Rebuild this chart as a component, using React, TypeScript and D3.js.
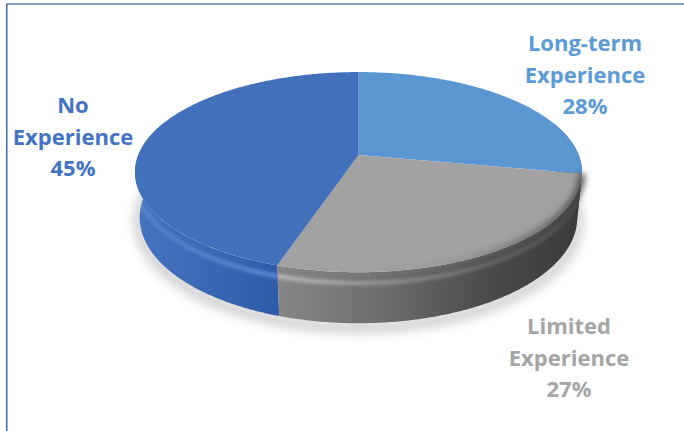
import React from "react";
import * as d3 from "d3";

const categories = ["Long-term Experience", "Limited Experience", "No Experience"];
const values = [28, 27, 45];
const labelLines = [
  ["Long-term", "Experience", "28%"],
  ["Limited", "Experience", "27%"],
  ["No", "Experience", "45%"],
];
const topColors = ["#5A97D2", "#A2A2A2", "#4270BB"];
const labelColors = ["#5B9BD5", "#A5A5A5", "#4472C4"];
const labelPos = [
  { x: 585, y: 51 },
  { x: 569, y: 334 },
  { x: 73, y: 113 },
];

const W = 684;
const H = 431;
const cx = 358.5;
const cy = 155;
const phi = (27 * Math.PI) / 180;
const D = 5.2;
const Fy = 1113;
const Fx = 1145;
const depth = 0.24;

function proj(theta: number, h: number): [number, number] {
  const X = Math.sin(theta);
  const Z = Math.cos(theta);
  const u = Z * Math.sin(phi) - h * Math.cos(phi);
  const w = Z * Math.cos(phi) + h * Math.sin(phi);
  return [cx + (X * Fx) / (D + w), cy - (u * Fy) / (D + w)];
}

function arcPts(a0: number, a1: number, h: number): [number, number][] {
  const n = Math.max(2, Math.ceil(Math.abs(a1 - a0) / 0.01));
  return d3.range(n + 1).map((i) => proj(a0 + ((a1 - a0) * i) / n, h));
}

const line = d3.line();

export default function App() {
  const arcs = d3.pie<number>().sort(null).startAngle(0).endAngle(2 * Math.PI)(values);
  const frontLo = Math.PI / 2 - 0.35;
  const frontHi = (3 * Math.PI) / 2 + 0.35;

  const tops = arcs.map((a) => {
    const pts: [number, number][] = [[cx, cy], ...arcPts(a.startAngle, a.endAngle, 0)];
    return line(pts) + "Z";
  });

  const sides = arcs.map((a) => {
    const s = Math.max(a.startAngle, frontLo);
    const e = Math.min(a.endAngle, frontHi);
    if (e <= s) return null;
    const pts = [...arcPts(s, e, 0), ...arcPts(e, s, depth)];
    return { d: line(pts) + "Z", rim: line(arcPts(s, e, 0.05)), rimTop: line(arcPts(s, e, 0)) };
  });

  const shadowPts = arcPts(Math.PI / 2 - 0.2, (3 * Math.PI) / 2 + 0.2, depth);
  const shadowD = line(shadowPts.map(([x, y]) => [x, y + 4] as [number, number])) + "Z";

  return (
    <svg width={W} height={H} style={{ position: "absolute", left: 0, top: 0 }}>
      <defs>
        <filter id="blur6" x="-20%" y="-50%" width="140%" height="200%">
          <feGaussianBlur stdDeviation="6" />
        </filter>
        <filter id="blur2" x="-20%" y="-20%" width="140%" height="140%">
          <feGaussianBlur stdDeviation="1.8" />
        </filter>
        <filter id="blur3" x="-20%" y="-20%" width="140%" height="140%">
          <feGaussianBlur stdDeviation="3" />
        </filter>
        <linearGradient id="side0" gradientUnits="userSpaceOnUse" x1={135} x2={582} y1={0} y2={0}>
          <stop offset="0" stopColor="#3b78b8" />
          <stop offset="1" stopColor="#2f5f90" />
        </linearGradient>
        <linearGradient id="side1" gradientUnits="userSpaceOnUse" x1={278} x2={582} y1={0} y2={0}>
          <stop offset="0" stopColor="#878787" />
          <stop offset="0.35" stopColor="#6c6c6c" />
          <stop offset="0.7" stopColor="#4a4a4a" />
          <stop offset="1" stopColor="#3a3a3a" />
        </linearGradient>
        <linearGradient id="side2" gradientUnits="userSpaceOnUse" x1={135} x2={280} y1={0} y2={0}>
          <stop offset="0" stopColor="#4674bf" />
          <stop offset="0.6" stopColor="#3866b2" />
          <stop offset="1" stopColor="#2e5ba7" />
        </linearGradient>
        <linearGradient id="rim1" gradientUnits="userSpaceOnUse" x1={278} x2={582} y1={0} y2={0}>
          <stop offset="0" stopColor="#c8c8c8" stopOpacity="0.7" />
          <stop offset="0.5" stopColor="#9a9a9a" stopOpacity="0.5" />
          <stop offset="1" stopColor="#555" stopOpacity="0.5" />
        </linearGradient>
        <linearGradient id="rim2" gradientUnits="userSpaceOnUse" x1={135} x2={280} y1={0} y2={0}>
          <stop offset="0" stopColor="#5f8bd2" stopOpacity="0.55" />
          <stop offset="1" stopColor="#6a95da" stopOpacity="0.7" />
        </linearGradient>
        <linearGradient id="edge1" gradientUnits="userSpaceOnUse" x1={278} x2={582} y1={0} y2={0}>
          <stop offset="0" stopColor="#a2a2a2" stopOpacity="0" />
          <stop offset="0.55" stopColor="#8a8a8a" stopOpacity="0.4" />
          <stop offset="1" stopColor="#404040" stopOpacity="0.9" />
        </linearGradient>
        {sides.map((s, i) =>
          s ? (
            <clipPath id={`clip${i}`} key={i}>
              <path d={s.d} />
            </clipPath>
          ) : null
        )}
      </defs>
      <rect x={0} y={0} width={W} height={H} fill="#ffffff" />
      <line x1={6.75} y1={4} x2={W} y2={4} stroke="#5b80b0" strokeWidth={1.5} />
      <line x1={6.75} y1={4} x2={6.75} y2={H} stroke="#3f6aa0" strokeWidth={1.5} />

      <path d={shadowD} fill="none" stroke="#000" strokeWidth={10} opacity={0.22} filter="url(#blur6)" />

      {sides.map((s, i) =>
        s ? (
          <g key={`s${i}`}>
            <path d={s.d} fill={`url(#side${i})`} />
            <g clipPath={`url(#clip${i})`}>
              {i !== 0 && (
                <path d={s.rim} fill="none" stroke={`url(#rim${i})`} strokeWidth={5} filter="url(#blur2)" />
              )}
            </g>
          </g>
        ) : null
      )}

      {tops.map((d, i) => (
        <path key={`t${i}`} d={d} fill={topColors[i]} />
      ))}
      {sides.map((s, i) =>
        s && i === 1 ? (
          <path key={`e${i}`} d={s.rimTop} fill="none" stroke="url(#edge1)" strokeWidth={7} filter="url(#blur3)" />
        ) : null
      )}

      {labelLines.map((lines, i) => (
        <text
          key={`l${i}`}
          x={labelPos[i].x}
          y={labelPos[i].y}
          textAnchor="middle"
          fill={labelColors[i]}
          fontFamily="'Open Sans', sans-serif"
          fontWeight={700}
          fontSize={22}
        >
          {lines.map((t, j) => (
            <tspan key={j} x={labelPos[i].x} dy={j === 0 ? 0 : 31.5}>
              {t}
            </tspan>
          ))}
        </text>
      ))}
    </svg>
  );
}
